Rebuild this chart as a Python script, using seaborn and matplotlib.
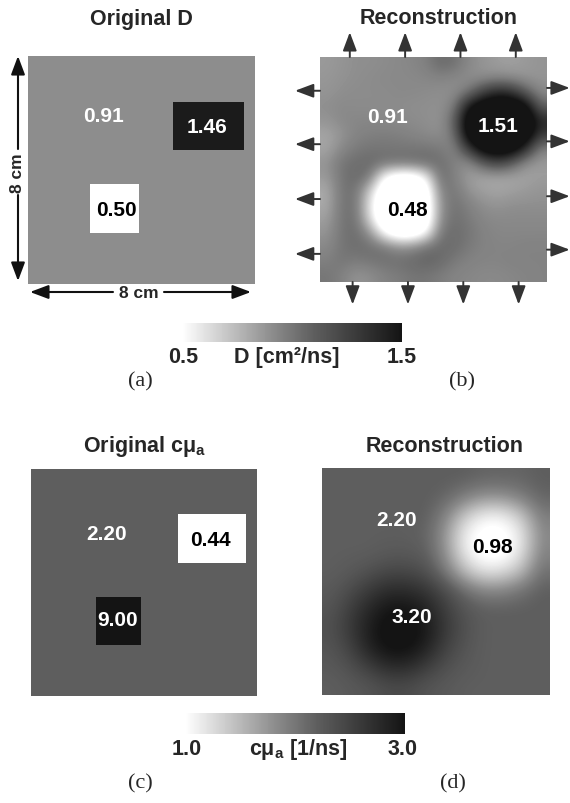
import numpy as np
import pandas as pd
import matplotlib
matplotlib.use("Agg")
import matplotlib.pyplot as plt
from matplotlib.colors import LinearSegmentedColormap, Normalize
from matplotlib.cm import ScalarMappable
from matplotlib.patches import FancyArrowPatch
import seaborn as sns

# ---------------- data ----------------
# phantom background values
D_background = 0.91
mua_background = 2.20
# inclusions (x0, x1, y0, y1) in cm, y measured from top, and their values
D_incl_boxes = [(5.1, 7.6, 1.65, 3.3), (2.25, 3.85, 4.55, 6.2)]
D_incl_values = [1.46, 0.50]
mua_incl_boxes = [(5.2, 7.6, 1.6, 3.25), (2.3, 3.9, 4.5, 6.15)]
mua_incl_values = [0.44, 9.00]

# reconstructed D, sampled on a 16 x 16 grid (rows top -> bottom)
D_recon = [
    [0.86, 0.88, 0.90, 0.90, 0.91, 0.92, 0.93, 0.96, 1.05, 1.02, 0.92, 0.88, 0.85, 0.84, 0.86, 0.88],
    [0.87, 0.89, 0.90, 0.91, 0.92, 0.92, 0.92, 0.93, 0.94, 0.92, 0.90, 0.90, 0.92, 0.90, 0.88, 0.88],
    [0.88, 0.90, 0.91, 0.91, 0.91, 0.92, 0.92, 0.91, 0.90, 0.90, 1.00, 1.25, 1.40, 1.35, 1.10, 0.92],
    [0.90, 0.92, 0.91, 0.91, 0.91, 0.91, 0.90, 0.90, 0.89, 0.97, 1.50, 1.70, 1.75, 1.75, 1.62, 1.08],
    [0.88, 0.92, 0.93, 0.93, 0.92, 0.92, 0.91, 0.90, 0.88, 1.08, 1.72, 1.80, 1.80, 1.80, 1.75, 1.40],
    [0.82, 0.88, 0.94, 0.96, 0.97, 0.96, 0.94, 0.92, 0.90, 1.02, 1.68, 1.80, 1.80, 1.80, 1.72, 1.30],
    [0.82, 0.92, 0.98, 1.00, 1.00, 1.00, 1.00, 1.00, 0.98, 0.93, 1.30, 1.65, 1.72, 1.68, 1.38, 0.95],
    [0.88, 1.00, 1.03, 1.05, 1.03, 1.02, 1.03, 1.05, 1.03, 0.95, 0.90, 1.12, 1.25, 1.12, 0.90, 0.86],
    [0.86, 1.00, 1.05, 1.00, 0.50, 0.35, 0.35, 0.55, 1.05, 0.95, 0.85, 0.82, 0.82, 0.82, 0.83, 0.85],
    [0.80, 1.00, 1.02, 0.70, 0.30, 0.25, 0.25, 0.35, 0.95, 1.00, 0.88, 0.84, 0.82, 0.84, 0.86, 0.88],
    [0.80, 1.00, 1.02, 0.60, 0.25, 0.20, 0.20, 0.30, 0.90, 1.02, 0.95, 0.90, 0.88, 0.90, 0.90, 0.90],
    [0.84, 1.00, 1.03, 0.65, 0.25, 0.20, 0.20, 0.30, 0.92, 1.03, 0.98, 0.93, 0.92, 0.92, 0.92, 0.92],
    [0.88, 1.00, 1.04, 0.90, 0.50, 0.30, 0.30, 0.50, 1.00, 1.04, 1.00, 0.95, 0.93, 0.93, 0.93, 0.93],
    [0.92, 1.00, 1.03, 1.03, 1.00, 0.90, 0.92, 1.02, 1.05, 1.04, 0.98, 0.95, 0.94, 0.94, 0.95, 0.95],
    [0.96, 1.00, 0.98, 1.00, 1.02, 1.03, 1.05, 1.08, 1.05, 0.98, 0.95, 0.94, 0.94, 0.95, 0.95, 0.95],
    [1.00, 0.96, 0.88, 0.90, 0.95, 0.97, 1.00, 1.00, 0.97, 0.94, 0.93, 0.92, 0.92, 0.93, 0.94, 0.95],
]

# reconstructed c*mu_a, sampled on a 12 x 12 grid (rows top -> bottom)
mua_recon = [
    [2.20, 2.20, 2.20, 2.20, 2.20, 2.20, 2.20, 2.20, 2.15, 2.15, 2.15, 2.20],
    [2.20, 2.20, 2.20, 2.20, 2.20, 2.20, 2.15, 1.95, 1.80, 1.80, 1.95, 2.15],
    [2.20, 2.20, 2.20, 2.20, 2.20, 2.20, 1.90, 1.40, 1.10, 1.10, 1.40, 1.95],
    [2.20, 2.20, 2.20, 2.20, 2.20, 2.15, 1.75, 1.10, 0.90, 0.90, 1.15, 1.85],
    [2.20, 2.20, 2.20, 2.25, 2.25, 2.20, 1.80, 1.15, 0.90, 0.90, 1.20, 1.90],
    [2.20, 2.25, 2.35, 2.45, 2.45, 2.35, 2.00, 1.50, 1.20, 1.25, 1.50, 2.05],
    [2.25, 2.40, 2.60, 2.75, 2.75, 2.65, 2.40, 2.10, 1.90, 1.90, 2.05, 2.20],
    [2.30, 2.55, 2.80, 3.00, 3.00, 2.85, 2.55, 2.30, 2.20, 2.20, 2.20, 2.20],
    [2.35, 2.60, 2.90, 3.10, 3.10, 2.95, 2.60, 2.35, 2.20, 2.20, 2.20, 2.20],
    [2.30, 2.50, 2.85, 3.05, 3.05, 2.85, 2.50, 2.30, 2.20, 2.20, 2.20, 2.20],
    [2.25, 2.35, 2.55, 2.75, 2.75, 2.55, 2.35, 2.25, 2.20, 2.20, 2.20, 2.20],
    [2.20, 2.25, 2.30, 2.40, 2.40, 2.30, 2.25, 2.20, 2.20, 2.20, 2.20, 2.20],
]

D_range = (0.5, 1.5)
mua_range = (1.0, 3.0)

# ---------------- style ----------------
sns.set_theme(style="white")
plt.rcParams["font.family"] = ["Liberation Sans", "DejaVu Sans"]
plt.rcParams["mathtext.fontset"] = "custom"
plt.rcParams["mathtext.rm"] = "Liberation Sans:bold"
plt.rcParams["mathtext.it"] = "Liberation Sans:bold"
plt.rcParams["mathtext.bf"] = "Liberation Sans:bold"

cmap = LinearSegmentedColormap.from_list(
    "gr", [(0.0, "#ffffff"), (0.41, "#8c8c8c"), (0.6, "#5e5e5e"), (1.0, "#141414")])

W, H = 570, 804
fig = plt.figure(figsize=(W / 100, H / 100), dpi=100)


def add_ax(x0, y0, x1, y1):
    return fig.add_axes([x0 / W, 1 - y1 / H, (x1 - x0) / W, (y1 - y0) / H])


def ftext(x, y, s, **kw):
    fig.text(x / W, 1 - y / H, s, ha="center", va="center", **kw)


def farrow(p0, p1):
    style = dict(arrowstyle="-|>,head_length=0.8,head_width=0.3", lw=1.5,
                 color="#111111", shrinkA=0, shrinkB=0, mutation_scale=14)
    fig.add_artist(FancyArrowPatch((p0[0] / W, 1 - p0[1] / H), (p1[0] / W, 1 - p1[1] / H),
                                   transform=fig.transFigure, **style))


def phantom(bg, boxes, values, n=80):
    c = (np.arange(n) + 0.5) * 8.0 / n
    X, Y = np.meshgrid(c, c)
    g = np.full((n, n), bg, dtype=float)
    for (x0, x1, y0, y1), v in zip(boxes, values):
        g[(X >= x0) & (X <= x1) & (Y >= y0) & (Y <= y1)] = v
    return pd.DataFrame(g)


def heat(ax, df, rng):
    sns.heatmap(df, ax=ax, cmap=cmap, vmin=rng[0], vmax=rng[1], cbar=False,
                xticklabels=False, yticklabels=False, rasterized=True)
    ax.set_xlabel("")
    ax.set_ylabel("")


def recon(ax, grid, rng):
    ax.imshow(np.array(grid), cmap=cmap, vmin=rng[0], vmax=rng[1],
              interpolation="bicubic", extent=(0, 8, 8, 0), aspect="auto")
    ax.set_xlim(0, 8)
    ax.set_ylim(8, 0)
    ax.set_axis_off()


TFS = 15.5
LFS = 15

# ---------------- panel (a) ----------------
ax_a = add_ax(28, 57, 255, 285)
heat(ax_a, phantom(D_background, D_incl_boxes, D_incl_values), D_range)
ftext(141, 19, "Original D", fontsize=TFS, fontweight="bold")
ftext(103, 117, "0.91", fontsize=LFS, fontweight="bold", color="white")
ftext(207, 128, "1.46", fontsize=LFS, fontweight="bold", color="white")
ftext(116, 211, "0.50", fontsize=LFS, fontweight="bold", color="black")

# 8 cm dimension arrows
farrow((18, 150), (18, 57))
farrow((18, 196), (18, 282))
farrow((113, 293), (30, 293))
farrow((164, 293), (251, 293))
ftext(18, 173, "8 cm", fontsize=12.5, fontweight="bold", rotation=90)
ftext(139, 293, "8 cm", fontsize=12.5, fontweight="bold")

# ---------------- panel (b) ----------------
ax_b = add_ax(320, 58, 547, 283)
recon(ax_b, D_recon, D_range)
ftext(439, 19, "Reconstruction", fontsize=TFS, fontweight="bold")
ftext(387, 118, "0.91", fontsize=LFS, fontweight="bold", color="white")
ftext(498, 127, "1.51", fontsize=LFS, fontweight="bold", color="white")
ftext(407, 211, "0.48", fontsize=LFS, fontweight="bold", color="black")

sarr = dict(arrowstyle="-|>,head_length=0.8,head_width=0.3", lw=1.4, color="#333333",
            shrinkA=0, shrinkB=0, mutation_scale=14)
top_x = [1.05, 3.0, 4.95, 6.9]
bottom_x = [1.15, 3.1, 5.05, 7.0]
left_y = [1.2, 3.1, 5.05, 7.0]
right_y = [1.1, 3.0, 4.95, 6.85]
L = 0.88
for x in top_x:
    ax_b.annotate("", xy=(x, -L), xytext=(x, 0), arrowprops=sarr, annotation_clip=False)
for x in bottom_x:
    ax_b.annotate("", xy=(x, 8 + 0.8), xytext=(x, 8), arrowprops=sarr, annotation_clip=False)
for y in left_y:
    ax_b.annotate("", xy=(-L, y), xytext=(0, y), arrowprops=sarr, annotation_clip=False)
for y in right_y:
    ax_b.annotate("", xy=(8 + 0.8, y), xytext=(8, y), arrowprops=sarr, annotation_clip=False)

# ---------------- colorbar D ----------------
cax1 = add_ax(182, 324, 402, 343)
cb1 = fig.colorbar(ScalarMappable(norm=Normalize(*D_range), cmap=cmap), cax=cax1,
                   orientation="horizontal")
cb1.outline.set_visible(False)
cb1.set_ticks([])
ftext(183, 358, "0.5", fontsize=TFS, fontweight="bold")
ftext(287, 358, "D [cm²/ns]", fontsize=TFS, fontweight="bold")
ftext(402, 358, "1.5", fontsize=TFS, fontweight="bold")

ftext(140, 382, "(a)", fontsize=16, family=["Liberation Serif"])
ftext(462, 382, "(b)", fontsize=16, family=["Liberation Serif"])

# ---------------- panel (c) ----------------
ax_c = add_ax(31, 470, 257, 697)
heat(ax_c, phantom(mua_background, mua_incl_boxes, mua_incl_values), mua_range)
ftext(145, 447, r"Original cμ$_a$", fontsize=TFS, fontweight="bold")
ftext(107, 535, "2.20", fontsize=LFS, fontweight="bold", color="white")
ftext(210, 541, "0.44", fontsize=LFS, fontweight="bold", color="black")
ftext(118, 620, "9.00", fontsize=LFS, fontweight="bold", color="white")

# ---------------- panel (d) ----------------
ax_d = add_ax(322, 469, 550, 696)
recon(ax_d, mua_recon, mua_range)
ftext(445, 447, "Reconstruction", fontsize=TFS, fontweight="bold")
ftext(397, 520, "2.20", fontsize=LFS, fontweight="bold", color="white")
ftext(492, 548, "0.98", fontsize=LFS, fontweight="bold", color="black")
ftext(412, 618, "3.20", fontsize=LFS, fontweight="bold", color="white")

# ---------------- colorbar mua ----------------
cax2 = add_ax(185, 714, 405, 735)
cb2 = fig.colorbar(ScalarMappable(norm=Normalize(*mua_range), cmap=cmap), cax=cax2,
                   orientation="horizontal")
cb2.outline.set_visible(False)
cb2.set_ticks([])
ftext(187, 750, "1.0", fontsize=TFS, fontweight="bold")
ftext(298, 750, r"cμ$_a$ [1/ns]", fontsize=TFS, fontweight="bold")
ftext(403, 750, "3.0", fontsize=TFS, fontweight="bold")

ftext(140, 784, "(c)", fontsize=16, family=["Liberation Serif"])
ftext(453, 784, "(d)", fontsize=16, family=["Liberation Serif"])

fig.savefig("out.png", dpi=100, facecolor="white")
